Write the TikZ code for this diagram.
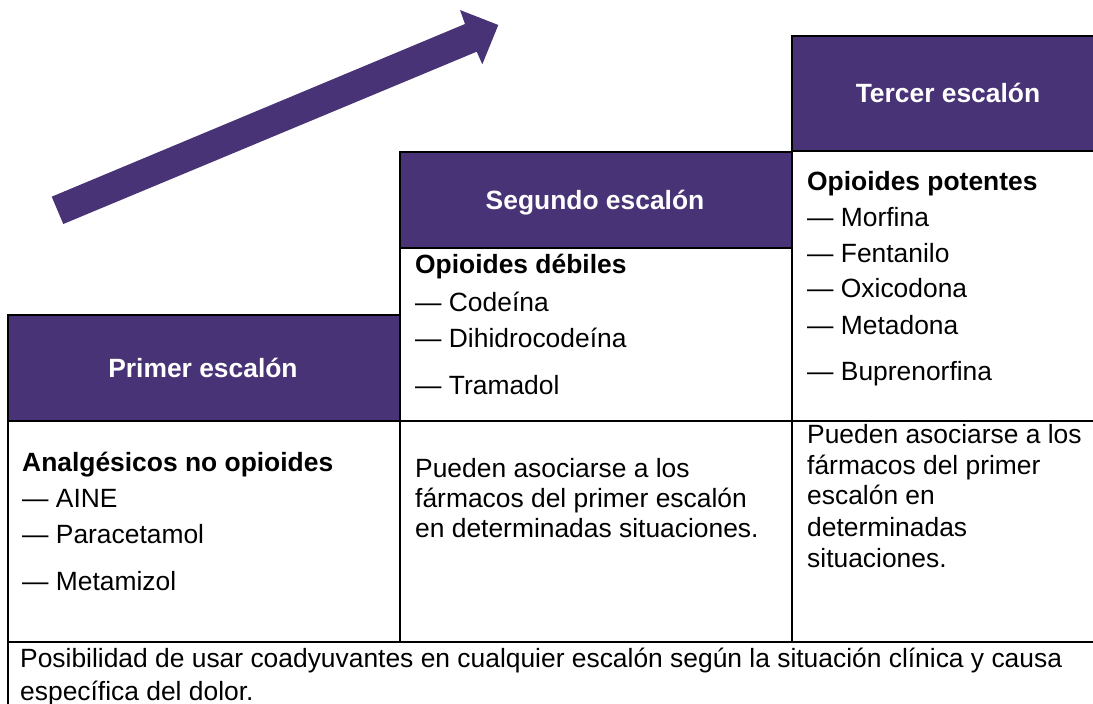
\documentclass[tikz,border=0pt]{standalone}
\usepackage{fontspec}
\setmainfont{Liberation Sans}
\definecolor{stepPurple}{RGB}{72,51,118}
\begin{document}
\begin{tikzpicture}[x=1pt,y=-1pt,
  grid/.style={draw=black,line width=2.3pt},
  header/.style={fill=stepPurple,draw=black,line width=2.3pt},
  htext/.style={anchor=base,inner sep=0pt,text=white,font=\fontsize{26.4}{30}\selectfont\bfseries},
  btext/.style={anchor=base west,inner sep=0pt,font=\fontsize{26.4}{30}\selectfont\bfseries},
  ltext/.style={anchor=base west,inner sep=0pt,font=\fontsize{26.4}{30}\selectfont}]
\useasboundingbox (0,0) rectangle (1093,704);
\begin{scope}
\clip (0,0) rectangle (1093,704);
% arrow
\fill[stepPurple] (51.7,196.7) -- (465,24) -- (460,10) -- (498.3,25) -- (482.3,64.3) -- (476.7,51.7) -- (63.3,224) -- cycle;
% headers
\draw[header] (8,315) rectangle (400,421);
\draw[header] (400,152) rectangle (792,248);
\draw[header] (792,36) rectangle (1100,151);
% grid lines
\draw[grid] (8,421) -- (8,710);
\draw[grid] (400,248) -- (400,642);
\draw[grid] (792,151) -- (792,642);
\draw[grid] (8,421) -- (1100,421);
\draw[grid] (8,642) -- (1100,642);
\end{scope}
% header texts
\node[htext] (h1) at (203,377) {Primer escalón};
\node[htext] (h2) at (595,209) {Segundo escalón};
\node[htext] (h3) at (948,102) {Tercer escalón};
% column 1
\node[btext] (c1t) at (22,471) {Analgésicos no opioides};
\node[ltext] (c1a) at (22,507) {— AINE};
\node[ltext] (c1b) at (22,543) {— Paracetamol};
\node[ltext] (c1c) at (22,590) {— Metamizol};
% column 2
\node[btext] (c2t) at (415,273) {Opioides débiles};
\node[ltext] (c2a) at (415,311) {— Codeína};
\node[ltext] (c2b) at (415,347) {— Dihidrocodeína};
\node[ltext] (c2c) at (415,394) {— Tramadol};
\node[ltext] (c2p1) at (415,477) {Pueden asociarse a los};
\node[ltext] (c2p2) at (415,507) {fármacos del primer escalón};
\node[ltext] (c2p3) at (415,537) {en determinadas situaciones.};
% column 3
\node[btext] (c3t) at (807,190) {Opioides potentes};
\node[ltext] (c3a) at (807,226) {— Morfina};
\node[ltext] (c3b) at (807,262) {— Fentanilo};
\node[ltext] (c3c) at (807,297) {— Oxicodona};
\node[ltext] (c3d) at (807,334) {— Metadona};
\node[ltext] (c3e) at (807,380) {— Buprenorfina};
\node[ltext] (c3p1) at (807,443) {Pueden asociarse a los};
\node[ltext] (c3p2) at (807,474) {fármacos del primer};
\node[ltext] (c3p3) at (807,504) {escalón en};
\node[ltext] (c3p4) at (807,536) {determinadas};
\node[ltext] (c3p5) at (807,567) {situaciones.};
% bottom
\node[ltext] (b1) at (20,667) {Posibilidad de usar coadyuvantes en cualquier escalón según la situación clínica y causa};
\node[ltext] (b2) at (20,700) {específica del dolor.};
\end{tikzpicture}
\end{document}
